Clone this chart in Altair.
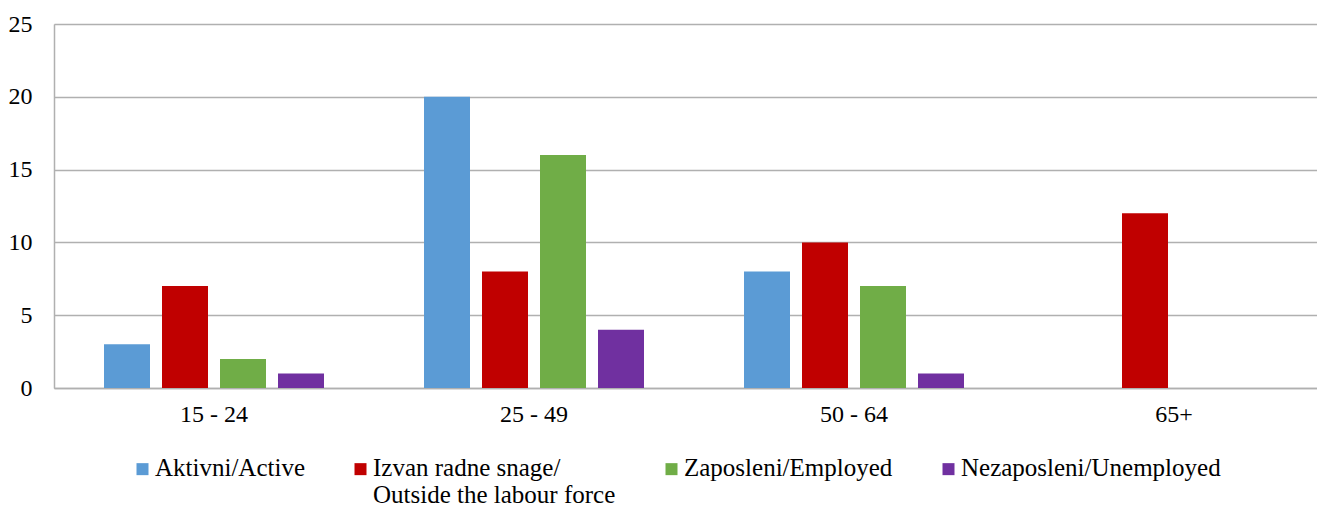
import altair as alt
import pandas as pd

age_groups = ["15 - 24", "25 - 49", "50 - 64", "65+"]
series = [
    "Aktivni/Active",
    "Izvan radne snage/Outside the labour force",
    "Zaposleni/Employed",
    "Nezaposleni/Unemployed",
]
active = [3, 20, 8, 0]
outside = [7, 8, 10, 12]
employed = [2, 16, 7, 0]
unemployed = [1, 4, 1, 0]
colors = ["#5B9BD5", "#C00000", "#70AD47", "#7030A0"]
y_ticks = [0, 5, 10, 15, 20, 25]

rows = []
for s, vals in zip(series, [active, outside, employed, unemployed]):
    for g, v in zip(age_groups, vals):
        rows.append({"age": g, "series": s, "value": v})
df = pd.DataFrame(rows)

FONT = "Liberation Serif"
GRID = "#b0b0b0"

label_expr = (
    "datum.label == 'Izvan radne snage/Outside the labour force' ? "
    "['Izvan radne snage/', 'Outside the labour force'] : [datum.label, ' ']"
)

chart = (
    alt.Chart(df)
    .mark_bar()
    .encode(
        x=alt.X(
            "age:N",
            sort=age_groups,
            scale=alt.Scale(
                domain=age_groups,
                range=[0, 1280],
                paddingInner=0.3125,
                paddingOuter=0.15625,
            ),
            axis=alt.Axis(
                title=None,
                labelAngle=0,
                ticks=False,
                domainColor=GRID,
                domainWidth=1.5,
                labelFont=FONT,
                labelFontSize=24,
                labelColor="#000000",
                labelPadding=14,
            ),
        ),
        xOffset=alt.XOffset(
            "series:N",
            sort=series,
            scale=alt.Scale(domain=series, paddingInner=12 / 58, paddingOuter=0),
        ),
        y=alt.Y(
            "value:Q",
            scale=alt.Scale(domain=[0, 25], nice=False),
            axis=alt.Axis(
                title=None,
                values=y_ticks,
                ticks=False,
                domainColor=GRID,
                domainWidth=1.5,
                gridColor=GRID,
                gridWidth=1.5,
                labelFont=FONT,
                labelFontSize=24,
                labelColor="#000000",
                labelPadding=22,
            ),
        ),
        color=alt.Color(
            "series:N",
            sort=series,
            scale=alt.Scale(domain=series, range=colors),
            legend=alt.Legend(
                title=None,
                orient="none",
                legendX=76,
                legendY=439,
                direction="horizontal",
                columns=4,
                columnPadding=43,
                padding=0,
                symbolType="M-1,-2.1H1V-0.1H-1Z",
                symbolSize=144,
                symbolStrokeWidth=0,
                symbolOpacity=1,
                labelFont=FONT,
                labelFontSize=25,
                labelColor="#000000",
                labelBaseline="alphabetic",
                labelOffset=0,
                labelLimit=0,
                labelExpr=label_expr,
            ),
        ),
    )
    .properties(
        width=1263,
        height=364,
        autosize=alt.AutoSizeParams(type="none"),
        padding={"left": 46, "top": 16, "right": 0, "bottom": 118},
    )
    .configure_view(stroke=None)
    .configure(background="white")
)

chart.save("out.html", embed_options={"renderer": "svg", "actions": False})
